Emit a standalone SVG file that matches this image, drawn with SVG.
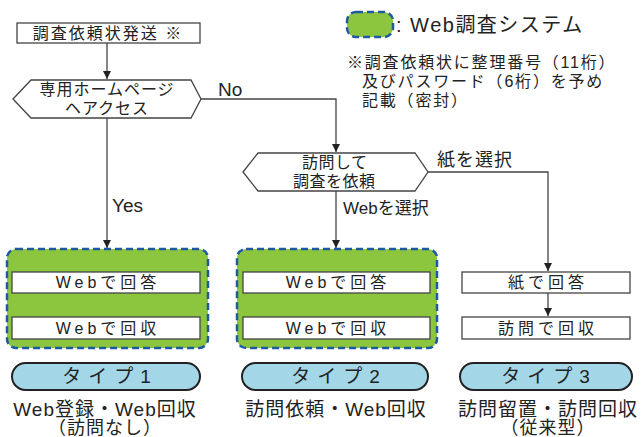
<svg xmlns="http://www.w3.org/2000/svg" width="643" height="437" viewBox="0 0 643 437">
<style>
text{font-family:"Liberation Sans","Noto Sans CJK JP",sans-serif;fill:#222;}
.box{fill:#fff;stroke:#444;stroke-width:1.3;}
.hex{fill:#fff;stroke:#444;stroke-width:1.3;}
.sys{fill:#8CC63F;stroke:#1E5AA0;stroke-width:2.5;stroke-dasharray:7 4;}
.pill{fill:#A3D7E8;stroke:#222;stroke-width:2;}
.ln{fill:none;stroke:#444;stroke-width:1.3;}
.t15{font-size:15px;}
.t16{font-size:16px;}
.note{font-size:16px;letter-spacing:1.8px;}
.inner{font-size:16px;letter-spacing:4px;}
.type{font-size:19px;letter-spacing:7px;}
.lbl{font-size:19px;letter-spacing:1px;}
.lbl2{font-size:18px;letter-spacing:1px;}
</style>
<defs>
<marker id="ah" viewBox="0 0 10 10" refX="10" refY="5" markerWidth="8" markerHeight="8" markerUnits="userSpaceOnUse" orient="auto">
<path d="M0,0 L10,5 L0,10 z" fill="#222"/>
</marker>
</defs>
<g id="legend">
<rect x="347" y="12" width="46" height="25" rx="9" class="sys"/>
<text x="396" y="32" style="font-size:20px;letter-spacing:1.5px">: Web調査システム</text>
<text x="347" y="68" class="note">※調査依頼状に整理番号（11桁）</text>
<text x="362" y="87" class="note">及びパスワード（6桁）を予め</text>
<text x="362" y="106" class="note">記載（密封）</text>
</g>
<g id="connectors">
<line x1="107" y1="43" x2="107" y2="79" class="ln" marker-end="url(#ah)"/>
<polyline points="201,99 336,99 336,152" class="ln" marker-end="url(#ah)"/>
<line x1="107" y1="118" x2="107" y2="248" class="ln" marker-end="url(#ah)"/>
<line x1="336" y1="191" x2="336" y2="248" class="ln" marker-end="url(#ah)"/>
<polyline points="428,172 548,172 548,271" class="ln" marker-end="url(#ah)"/>
<line x1="107" y1="293" x2="107" y2="316" class="ln" marker-end="url(#ah)"/>
<line x1="336" y1="293" x2="336" y2="316" class="ln" marker-end="url(#ah)"/>
<line x1="548" y1="293" x2="548" y2="316" class="ln" marker-end="url(#ah)"/>
<text x="218" y="96" style="font-size:19px">No</text>
<text x="112" y="212" style="font-size:19px">Yes</text>
<text x="437" y="166" style="font-size:18px;letter-spacing:1px">紙を選択</text>
<text x="343" y="214" style="font-size:17px">Webを選択</text>
</g>
<g id="start">
<rect x="17" y="23" width="183" height="20" class="box"/>
<text x="108" y="39" text-anchor="middle" style="font-size:16px;letter-spacing:2px">調査依頼状発送 ※</text>
</g>
<g id="access">
<polygon points="13,99 31,80 191,80 201,99 191,118 31,118" class="hex"/>
<text x="107" y="95" class="t16" text-anchor="middle" style="letter-spacing:1px">専用ホームページ</text>
<text x="107" y="114" class="t16" text-anchor="middle" style="letter-spacing:1px">ヘアクセス</text>
</g>
<g id="visit">
<polygon points="243,172 258,153 415,153 428,172 415,191 258,191" class="hex"/>
<text x="302" y="168" class="t16" style="letter-spacing:0.5px">訪問して</text>
<text x="293" y="187" class="t16" style="letter-spacing:0.5px">調査を依頼</text>
</g>
<g id="type1">
<rect x="7" y="249" width="201" height="99" rx="9" class="sys"/>
<rect x="12" y="272" width="188" height="21" class="box"/>
<text x="108" y="288" class="inner" text-anchor="middle">Webで回答</text>
<rect x="12" y="317" width="188" height="22" class="box"/>
<text x="108" y="334" class="inner" text-anchor="middle">Webで回収</text>
<rect x="12" y="363" width="188" height="27" rx="13.5" class="pill"/>
<text x="110" y="383" class="type" text-anchor="middle">タイプ1</text>
<text x="105" y="416" class="lbl" text-anchor="middle">Web登録・Web回収</text>
<text x="105" y="434" class="lbl2" text-anchor="middle">（訪問なし）</text>
</g>
<g id="type2">
<rect x="237" y="249" width="200" height="99" rx="9" class="sys"/>
<rect x="243" y="272" width="187" height="21" class="box"/>
<text x="338" y="288" class="inner" text-anchor="middle">Webで回答</text>
<rect x="243" y="317" width="187" height="22" class="box"/>
<text x="338" y="334" class="inner" text-anchor="middle">Webで回収</text>
<rect x="242" y="363" width="186" height="27" rx="13.5" class="pill"/>
<text x="339" y="383" class="type" text-anchor="middle">タイプ2</text>
<text x="336" y="416" class="lbl" text-anchor="middle">訪問依頼・Web回収</text>
</g>
<g id="type3">
<rect x="462" y="272" width="168" height="21" class="box"/>
<text x="548" y="288" class="inner" text-anchor="middle">紙で回答</text>
<rect x="462" y="317" width="168" height="22" class="box"/>
<text x="548" y="334" class="inner" text-anchor="middle">訪問で回収</text>
<rect x="460" y="363" width="172" height="27" rx="13.5" class="pill"/>
<text x="549" y="383" class="type" text-anchor="middle">タイプ3</text>
<text x="548" y="416" class="lbl" text-anchor="middle">訪問留置・訪問回収</text>
<text x="548" y="434" class="lbl2" text-anchor="middle">（従来型）</text>
</g>
</svg>
